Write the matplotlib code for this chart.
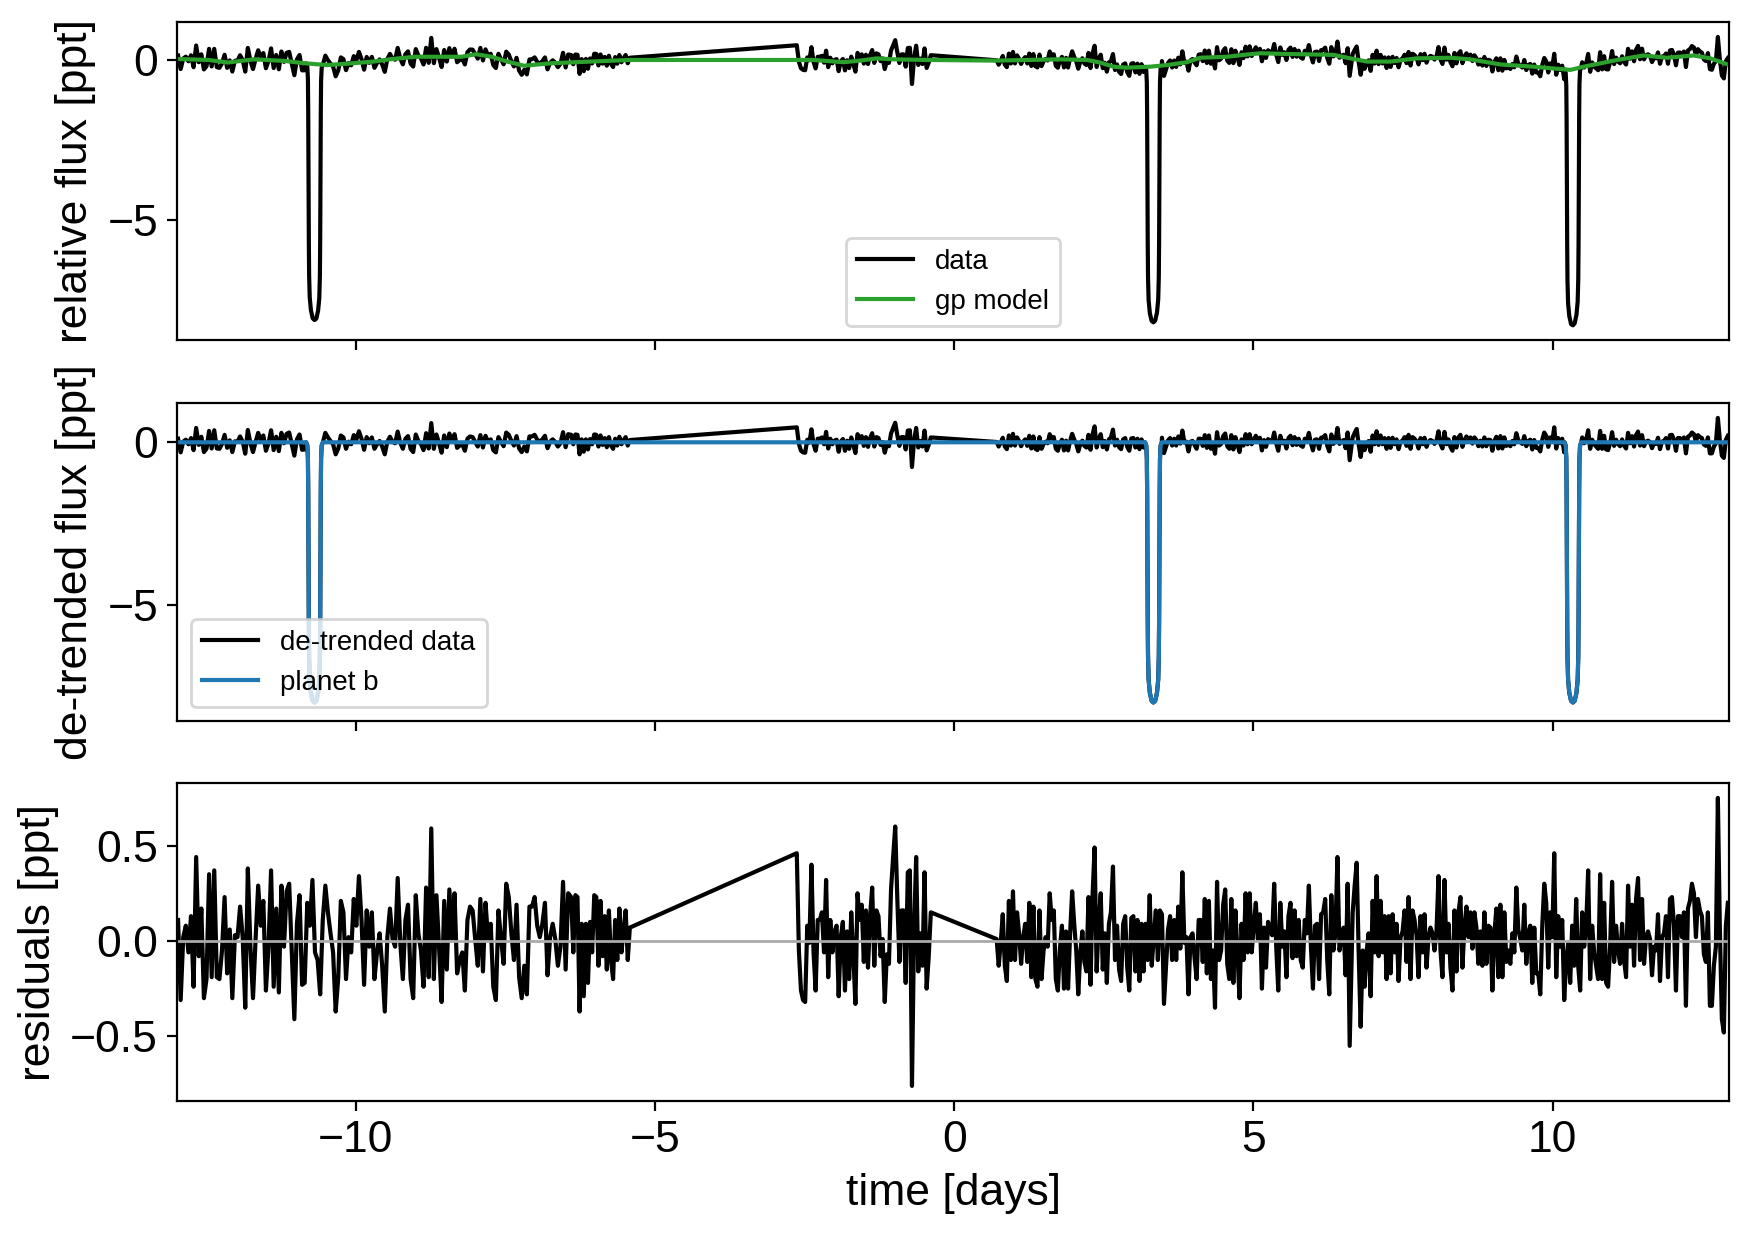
import numpy as np
import matplotlib.pyplot as plt

plt.rcParams["font.family"] = ["Liberation Sans", "DejaVu Sans"]
plt.rcParams["font.size"] = 16

# residuals [ppt], read block by block off the bottom panel
# (each block is evenly sampled between its start and end time)
blocks_t = [(-12.97, -6.45), (-6.40, -5.42), (-2.63, -0.39), (0.71, 6.61), (6.66, 12.93)]

res_a = [0.11, -0.31, 0.02, 0.08, -0.06, 0.13, -0.24, 0.44, -0.08, 0.17,
         -0.30, -0.20, 0.35, -0.19, 0.37, -0.19, -0.20, -0.05, 0.23, -0.17,
         0.06, -0.30, 0.03, 0.02, 0.18, 0.02, -0.35, 0.38, -0.03, -0.30,
         0.01, 0.29, 0.08, 0.21, -0.26, -0.03, 0.37, -0.24, 0.17, -0.27,
         0.29, -0.03, 0.26, 0.30, -0.06, -0.41, 0.09, 0.24, -0.23, -0.22,
         0.20, 0.08, 0.32, -0.06, -0.10, -0.28, 0.11, 0.29, 0.15, 0.04,
         -0.06, -0.37, -0.19, 0.21, 0.15, -0.20, 0.02, -0.06, 0.22, 0.08,
         0.34, 0.11, -0.23, 0.16, -0.03, 0.15, -0.20, -0.06, 0.04, -0.13,
         -0.37, 0.02, 0.17, 0.01, -0.03, 0.33, -0.01, -0.20, 0.11, 0.19,
         -0.20, -0.30, 0.24, 0.04, -0.05, -0.24, 0.28, -0.19, 0.59, -0.20,
         0.24, -0.03, -0.32, 0.21, -0.15, 0.27, 0.01, 0.25, -0.17, -0.10,
         -0.06, -0.26, 0.11, 0.18, 0.16, 0.01, -0.13, 0.22, -0.16, 0.20,
         0.01, 0.09, -0.24, -0.31, 0.16, 0.01, -0.12, 0.30, 0.23, 0.04,
         -0.10, 0.19, -0.19, -0.30, -0.13, -0.28, 0.18, 0.18, 0.23, 0.08,
         0.02, 0.09, 0.20, -0.18, 0.02, 0.09, 0.01, -0.13, -0.03, 0.31,
         -0.15, 0.25]
res_b = [0.23, -0.06, 0.24, 0.23, -0.37, 0.09, -0.29, 0.09, -0.22, 0.10,
         -0.06, 0.24, 0.23, -0.13, 0.21, -0.08, 0.13, -0.15, 0.16, -0.10,
         -0.20, 0.11, -0.10, 0.17, -0.06, 0.06, 0.16, -0.10, 0.07]
res_c = [0.46, -0.05, -0.26, -0.31, -0.32, 0.08, -0.01, 0.40, -0.06, -0.26,
         0.11, 0.11, 0.15, -0.06, 0.32, -0.19, 0.11, -0.06, 0.05, 0.08,
         -0.29, 0.02, 0.10, -0.26, 0.05, -0.20, 0.15, -0.08, -0.33, 0.25,
         0.11, 0.19, -0.11, 0.16, -0.14, 0.13, 0.28, -0.13, 0.16, 0.13,
         -0.08, 0.01, -0.32, -0.07, -0.12, 0.27, 0.44, 0.60, 0.22, -0.11,
         0.16, 0.16, -0.22, 0.36, 0.37, -0.76, 0.06, 0.44, -0.16, 0.04,
         -0.13, 0.36, -0.25, -0.08, 0.15]
res_d = [0.01, -0.13, -0.01, 0.14, -0.13, -0.21, 0.21, -0.10, 0.26, -0.10,
         0.15, 0.04, -0.12, 0.02, 0.09, -0.11, 0.20, -0.19, 0.18, -0.20,
         -0.24, 0.16, -0.20, -0.05, 0.02, -0.03, 0.25, 0.11, 0.16, -0.20,
         -0.26, -0.04, 0.08, -0.25, 0.05, -0.25, 0.04, 0.26, 0.09, -0.05,
         -0.28, -0.06, 0.05, -0.11, -0.16, 0.23, -0.23, 0.24, 0.49, -0.16,
         0.09, 0.25, -0.15, 0.04, -0.22, 0.09, 0.15, 0.39, -0.10, 0.08,
         -0.15, -0.21, 0.09, 0.13, -0.14, -0.26, 0.12, 0.13, -0.16, 0.11,
         -0.21, 0.09, -0.16, 0.09, -0.10, 0.24, -0.13, 0.02, 0.16, -0.10,
         0.16, 0.14, -0.33, -0.13, 0.06, 0.13, -0.10, 0.11, -0.10, 0.18,
         -0.04, 0.36, -0.01, 0.02, -0.28, 0.02, 0.04, -0.09, -0.20, 0.11,
         0.11, -0.11, 0.22, -0.17, 0.21, -0.20, -0.05, -0.35, 0.31, -0.10,
         -0.05, 0.19, 0.27, -0.12, -0.20, 0.22, -0.22, 0.16, -0.06, -0.30,
         0.09, -0.10, 0.25, -0.06, 0.25, -0.06, 0.08, 0.20, 0.01, 0.14,
         -0.25, 0.07, -0.14, 0.10, 0.05, 0.03, 0.30, -0.03, -0.26, 0.20,
         -0.03, 0.05, -0.19, 0.13, 0.20, -0.09, 0.16, -0.08, 0.11, -0.10,
         -0.14, 0.11, 0.04, 0.29, -0.03, -0.25, 0.08, 0.09, -0.20, 0.14,
         0.15, 0.22, -0.10, -0.28, 0.24, -0.05, 0.04, 0.44, -0.05, 0.02,
         0.07, -0.18, 0.30, -0.55]
res_e = [0.15, 0.29, 0.41, -0.06, -0.45, -0.05, -0.24, -0.05, 0.04, -0.29,
         0.21, -0.06, 0.34, -0.08, 0.21, -0.06, 0.13, -0.20, 0.13, -0.17,
         0.14, -0.06, 0.09, -0.21, 0.02, 0.05, 0.16, -0.11, 0.23, -0.20,
         0.16, 0.11, 0.03, -0.19, 0.13, -0.06, 0.14, -0.14, 0.02, 0.07,
         0.04, -0.05, 0.05, 0.34, -0.05, -0.19, 0.32, -0.06, 0.09, -0.14,
         -0.26, 0.16, -0.16, 0.15, 0.23, -0.14, 0.07, 0.18, 0.02, 0.15,
         -0.04, 0.15, 0.07, -0.12, 0.05, -0.13, 0.15, -0.12, 0.08, 0.07,
         -0.26, 0.04, 0.17, -0.19, 0.19, -0.19, 0.15, -0.11, -0.05, -0.12,
         0.04, -0.06, 0.28, 0.06, 0.01, -0.05, 0.19, -0.12, 0.04, 0.08,
         -0.22, 0.07, -0.17, -0.17, -0.28, 0.08, 0.30, 0.20, -0.14, 0.15,
         0.02, 0.46, -0.19, 0.13, -0.03, 0.11, -0.31, -0.10, -0.01, -0.22,
         0.08, -0.13, 0.22, -0.13, -0.26, 0.15, -0.03, 0.08, 0.37, -0.20,
         0.08, -0.06, -0.13, -0.20, 0.35, -0.20, 0.20, -0.22, -0.24, -0.03,
         0.31, -0.11, 0.08, -0.05, -0.12, 0.09, -0.10, -0.19, 0.29, -0.03,
         0.19, -0.13, 0.22, 0.33, -0.10, 0.22, -0.12, 0.02, 0.05, 0.01,
         -0.18, -0.03, -0.05, 0.14, -0.21, 0.02, 0.04, 0.13, -0.19, 0.22,
         0.23, 0.08, -0.26, 0.13, 0.13, 0.02, 0.15, -0.34, 0.17, 0.21,
         0.30, 0.25, 0.02, 0.22, 0.16, 0.13, -0.07, -0.11, 0.15, -0.34,
         -0.34, -0.13, -0.03, 0.75, 0.06, -0.41, -0.48, 0.08, 0.20]

# gp model knots [days], [ppt]
gp_t = [-12.97, -12.46, -12.14, -11.70, -11.19, -10.87, -10.48, -10.03, -9.71, -9.39,
        -9.01, -8.63, -8.24, -7.99, -7.73, -7.47, -7.19, -6.96, -6.71, -6.07,
        -5.42, -2.63, -2.35, -1.85, -1.57, -1.29, -1.01, -0.46, -0.39, 0.71,
        1.21, 1.77, 2.22, 2.44, 2.66, 2.88, 3.27, 3.55, 3.89, 4.11,
        4.56, 4.84, 5.12, 5.51, 6.34, 6.62, 6.90, 7.29, 7.73, 8.29,
        8.62, 9.13, 9.68, 10.30, 10.52, 11.08, 11.52, 11.91, 12.36, 12.64, 12.93]
gp_v = [0.03, 0.00, -0.08, 0.02, -0.03, -0.10, -0.16, -0.10, -0.05, 0.03,
        0.10, 0.10, 0.10, 0.18, 0.10, -0.05, -0.18, -0.14, -0.10, -0.05,
        0.00, 0.00, 0.00, -0.07, -0.02, 0.05, 0.02, 0.00, 0.00, -0.02,
        0.00, 0.02, 0.00, -0.08, -0.21, -0.24, -0.21, -0.16, -0.07, 0.07,
        0.10, 0.16, 0.21, 0.19, 0.16, 0.05, -0.05, -0.05, 0.05, 0.07,
        0.02, -0.14, -0.21, -0.31, -0.21, 0.00, 0.14, 0.07, 0.14, 0.05, -0.14]

# planet b: transit mid-times and the profile around each one
transit_t0 = [-10.69, 3.33, 10.34]
prof_dt = [-0.14, -0.12, -0.11, -0.105, -0.10, -0.095, -0.09, -0.08, -0.06, -0.03, 0.0,
           0.03, 0.06, 0.08, 0.09, 0.095, 0.10, 0.105, 0.11, 0.12, 0.14]
prof_f = [0.0, -0.1, -0.5, -1.5, -3.5, -5.5, -6.6, -7.3, -7.7, -7.95, -8.0,
          -7.95, -7.7, -7.3, -6.6, -5.5, -3.5, -1.5, -0.5, -0.1, 0.0]

#%%
res_blocks = [res_a, res_b, res_c, res_d, res_e]
t_res = np.concatenate([np.linspace(a, b, len(r)) for (a, b), r in zip(blocks_t, res_blocks)])
res = np.concatenate([np.array(r) for r in res_blocks])

t_tr = np.concatenate([t0 + np.array(prof_dt) for t0 in transit_t0])
f_tr = np.tile(prof_f, len(transit_t0))

keep = np.ones(len(t_res), bool)
for t0 in transit_t0:
    keep &= np.abs(t_res - t0) > max(prof_dt)
t_det = np.concatenate([t_res[keep], t_tr])
f_det = np.concatenate([res[keep], f_tr])
order = np.argsort(t_det)
t_det, f_det = t_det[order], f_det[order]
f_rel = f_det + np.interp(t_det, gp_t, gp_v)

t_pl = np.concatenate([[t_res[0]], t_tr, [t_res[-1]]])
f_pl = np.concatenate([[0.0], f_tr, [0.0]])

#%%
fig = plt.figure(figsize=(8.76, 6.17), dpi=200)
L, W, H = 0.1013, 0.8856, 0.2575
ax1 = fig.add_axes([L, 0.7245, W, H])
ax2 = fig.add_axes([L, 0.4157, W, H], sharex=ax1)
ax3 = fig.add_axes([L, 0.1078, W, H], sharex=ax1)

ax1.plot(t_det, f_rel, "k", label="data")
ax1.plot(gp_t, gp_v, color="C2", label="gp model")
ax1.legend(fontsize=10, loc="lower center")
ax1.set_ylabel("relative flux [ppt]")
ax1.set_ylim(-8.75, 1.18)

ax2.plot(t_det, f_det, "k", label="de-trended data")
ax2.plot(t_pl, f_pl, color="C0", label="planet b")
ax2.legend(fontsize=10, loc="lower left")
ax2.set_ylabel("de-trended flux [ppt]")
ax2.set_ylim(-8.57, 1.2)

ax3.plot(t_res, res, "k")
ax3.axhline(0, color="#aaaaaa", lw=1)
ax3.set_ylabel("residuals [ppt]")
ax3.set_ylim(-0.839, 0.827)
ax3.set_xlim(-12.98, 12.95)
ax3.set_xlabel("time [days]")

for ax in (ax1, ax2):
    plt.setp(ax.get_xticklabels(), visible=False)

fig.savefig("out.png", dpi=200)
